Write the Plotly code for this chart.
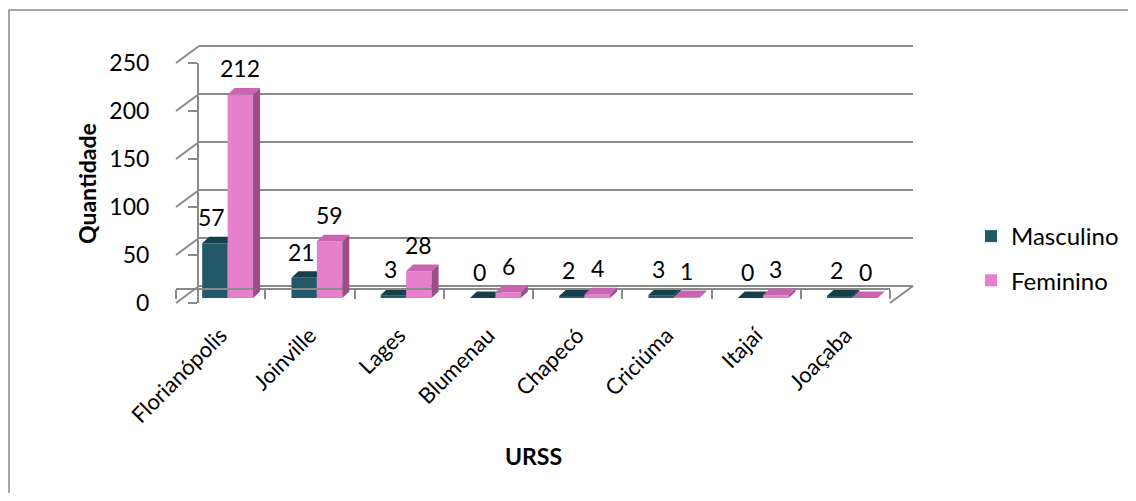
import plotly.graph_objects as go

categories = ["Florianópolis", "Joinville", "Lages", "Blumenau", "Chapecó", "Criciúma", "Itajaí", "Joaçaba"]
masculino = [57, 21, 3, 0, 2, 3, 0, 2]
feminino = [212, 59, 28, 6, 4, 1, 3, 0]
y_ticks = [0, 50, 100, 150, 200, 250]
series_names = ["Masculino", "Feminino"]
x_title = "URSS"
y_title = "Quantidade"

# page body has an 8px margin; figure fills the rest of the 1136x501 window
OFF = 8
W, H = 1136 - 2 * OFF, 501 - 2 * OFF
FONT = "Lato, 'Open Sans', sans-serif"
GRID = "#8a8a8a"

# front plane geometry (window px)
FX0, FX1 = 176, 890
FY0, FY1 = 303, 63
YMAX = 250
SX = (FX1 - FX0) / len(categories)
SY = (FY0 - FY1) / YMAX
BACK = (23, 17)      # depth of the floor / walls
BARPL = (7, 5)       # bar front plane offset
DEPTH = (7, 6.5)     # bar depth
BARGAP = 0.43


def px(x):
    return (x - OFF) / W


def py(y):
    return 1 - (y - OFF) / H


def xdom(x0, x1):
    return [px(x0), px(x1)]


def ydom(ybot, ytop):
    return [py(ybot), py(ytop)]


n = len(categories)
fig = go.Figure()

# subplot 1: back wall (gridlines)
pad = 2
fig.add_trace(go.Scatter(x=[0], y=[0], xaxis="x", yaxis="y", mode="markers",
                         marker=dict(opacity=0), showlegend=False, hoverinfo="skip"))

# subplot 2: bars
w = (1 - BARGAP) / 2
fig.add_trace(go.Bar(x=list(range(n)), y=masculino, name=series_names[0], xaxis="x2", yaxis="y2",
                     marker=dict(color="#215968", line=dict(width=0)), legendgroup="m",
                     hoverinfo="skip"))
fig.add_trace(go.Bar(x=list(range(n)), y=feminino, name=series_names[1], xaxis="x2", yaxis="y2",
                     marker=dict(color="#E680CC", line=dict(width=0)), legendgroup="f",
                     hoverinfo="skip"))

# subplot 3: front axes with category labels
fig.add_trace(go.Scatter(x=categories, y=[0] * n, xaxis="x3", yaxis="y3", mode="markers",
                         marker=dict(opacity=0), showlegend=False, hoverinfo="skip"))

ddx = DEPTH[0] / SX
ddy = DEPTH[1] / SY
shapes = []


def faces(x0, x1, v, top, side, layer):
    res = []
    res.append(dict(type="path", xref="x2", yref="y2", layer=layer, line=dict(width=0), fillcolor=side,
                    path=f"M{x1},0 L{x1},{v} L{x1+ddx},{v+ddy} L{x1+ddx},{ddy} Z"))
    res.append(dict(type="path", xref="x2", yref="y2", layer=layer, line=dict(width=0), fillcolor=top,
                    path=f"M{x0},{v} L{x1},{v} L{x1+ddx},{v+ddy} L{x0+ddx},{v+ddy} Z"))
    return res


annotations = []
for i in range(n):
    vm, vf = masculino[i], feminino[i]
    shapes += faces(i - w, i, vm, "#173F4A", "#173F4A", "between")
    shapes += faces(i, i + w, vf, "#C864B0", "#9B4D87", "above")
    annotations.append(dict(x=i - w / 2, y=vm, xref="x2", yref="y2", text=str(vm), showarrow=False,
                            xanchor="center", yanchor="middle", yshift=26, xshift=-3,
                            font=dict(size=23, color="black", family=FONT)))
    annotations.append(dict(x=i + w / 2, y=vf, xref="x2", yref="y2", text=str(vf), showarrow=False,
                            xanchor="center", yanchor="middle", yshift=26,
                            font=dict(size=23, color="black", family=FONT)))

# left wall diagonals
for v in y_ticks:
    yf = FY0 - v * SY
    shapes.append(dict(type="line", xref="paper", yref="paper", layer="above",
                       x0=px(FX0), y0=py(yf), x1=px(FX0 + BACK[0]), y1=py(yf - BACK[1]),
                       line=dict(color=GRID, width=2)))
# floor right edge
shapes.append(dict(type="line", xref="paper", yref="paper", layer="above",
                   x0=px(FX1), y0=py(FY0), x1=px(FX1 + BACK[0]), y1=py(FY0 - BACK[1]),
                   line=dict(color=GRID, width=2)))
# chart border
shapes.append(dict(type="rect", xref="paper", yref="paper", layer="above",
                   x0=px(9), y0=py(1000), x1=px(2000), y1=py(10),
                   line=dict(color="#8a8a8a", width=1.5), fillcolor="rgba(0,0,0,0)"))

annotations.append(dict(x=px(87), y=py(184), xref="paper", yref="paper", text=f"<b>{y_title}</b>",
                        textangle=-90, showarrow=False, xanchor="center", yanchor="middle",
                        font=dict(size=23, color="black", family=FONT)))
annotations.append(dict(x=px(533), y=py(456), xref="paper", yref="paper", text=f"<b>{x_title}</b>",
                        showarrow=False, xanchor="center", yanchor="middle",
                        font=dict(size=23, color="black", family=FONT)))

hidden = dict(showgrid=False, zeroline=False, showline=False, showticklabels=False, ticks="")

fig.update_layout(
    width=W, height=H,
    margin=dict(l=0, r=0, t=0, b=0, autoexpand=False),
    paper_bgcolor="white", plot_bgcolor="rgba(0,0,0,0)",
    barmode="group", bargap=BARGAP, bargroupgap=0,
    font=dict(family=FONT, size=22, color="black"),
    xaxis=dict(domain=xdom(FX0 + BACK[0], FX1 + BACK[0]), range=[-0.5, n - 0.5], **hidden),
    yaxis=dict(domain=ydom(FY0 - BACK[1] + pad * SY, FY1 - BACK[1] - pad * SY), range=[-pad, YMAX + pad],
               tickvals=y_ticks, showgrid=True, gridcolor=GRID, gridwidth=2, zeroline=False,
               showline=False, showticklabels=False, ticks=""),
    xaxis2=dict(domain=xdom(FX0 + BARPL[0], FX1 + BARPL[0]), range=[-0.5, n - 0.5], **hidden),
    yaxis2=dict(domain=ydom(FY0 - BARPL[1], FY1 - BARPL[1]), range=[0, YMAX], **hidden),
    xaxis3=dict(domain=xdom(FX0, FX1), type="category", categoryorder="array", categoryarray=categories,
                range=[-0.5, n - 0.5], showgrid=False, zeroline=False, showline=True, linecolor=GRID,
                linewidth=2, ticks="outside", tickson="boundaries", ticklen=9, tickcolor=GRID, tickwidth=2,
                tickangle=-45, tickfont=dict(size=22, family=FONT, color="black"), automargin=False,
                ticklabelstandoff=24),
    yaxis3=dict(domain=ydom(FY0, FY1), range=[0, YMAX], tickvals=y_ticks, showgrid=False, zeroline=False,
                showline=True, linecolor=GRID, linewidth=2, ticks="outside", ticklen=9, tickcolor=GRID,
                tickwidth=2, tickfont=dict(size=23, family=FONT, color="black"), automargin=False,
                ticklabelstandoff=34),
    legend=dict(x=px(971), xanchor="left", y=py(214), yanchor="top", traceorder="grouped",
                tracegroupgap=10, font=dict(size=24, family=FONT, color="black"), bgcolor="rgba(0,0,0,0)"),
    shapes=shapes, annotations=annotations,
)

fig.write_html("out.html")
